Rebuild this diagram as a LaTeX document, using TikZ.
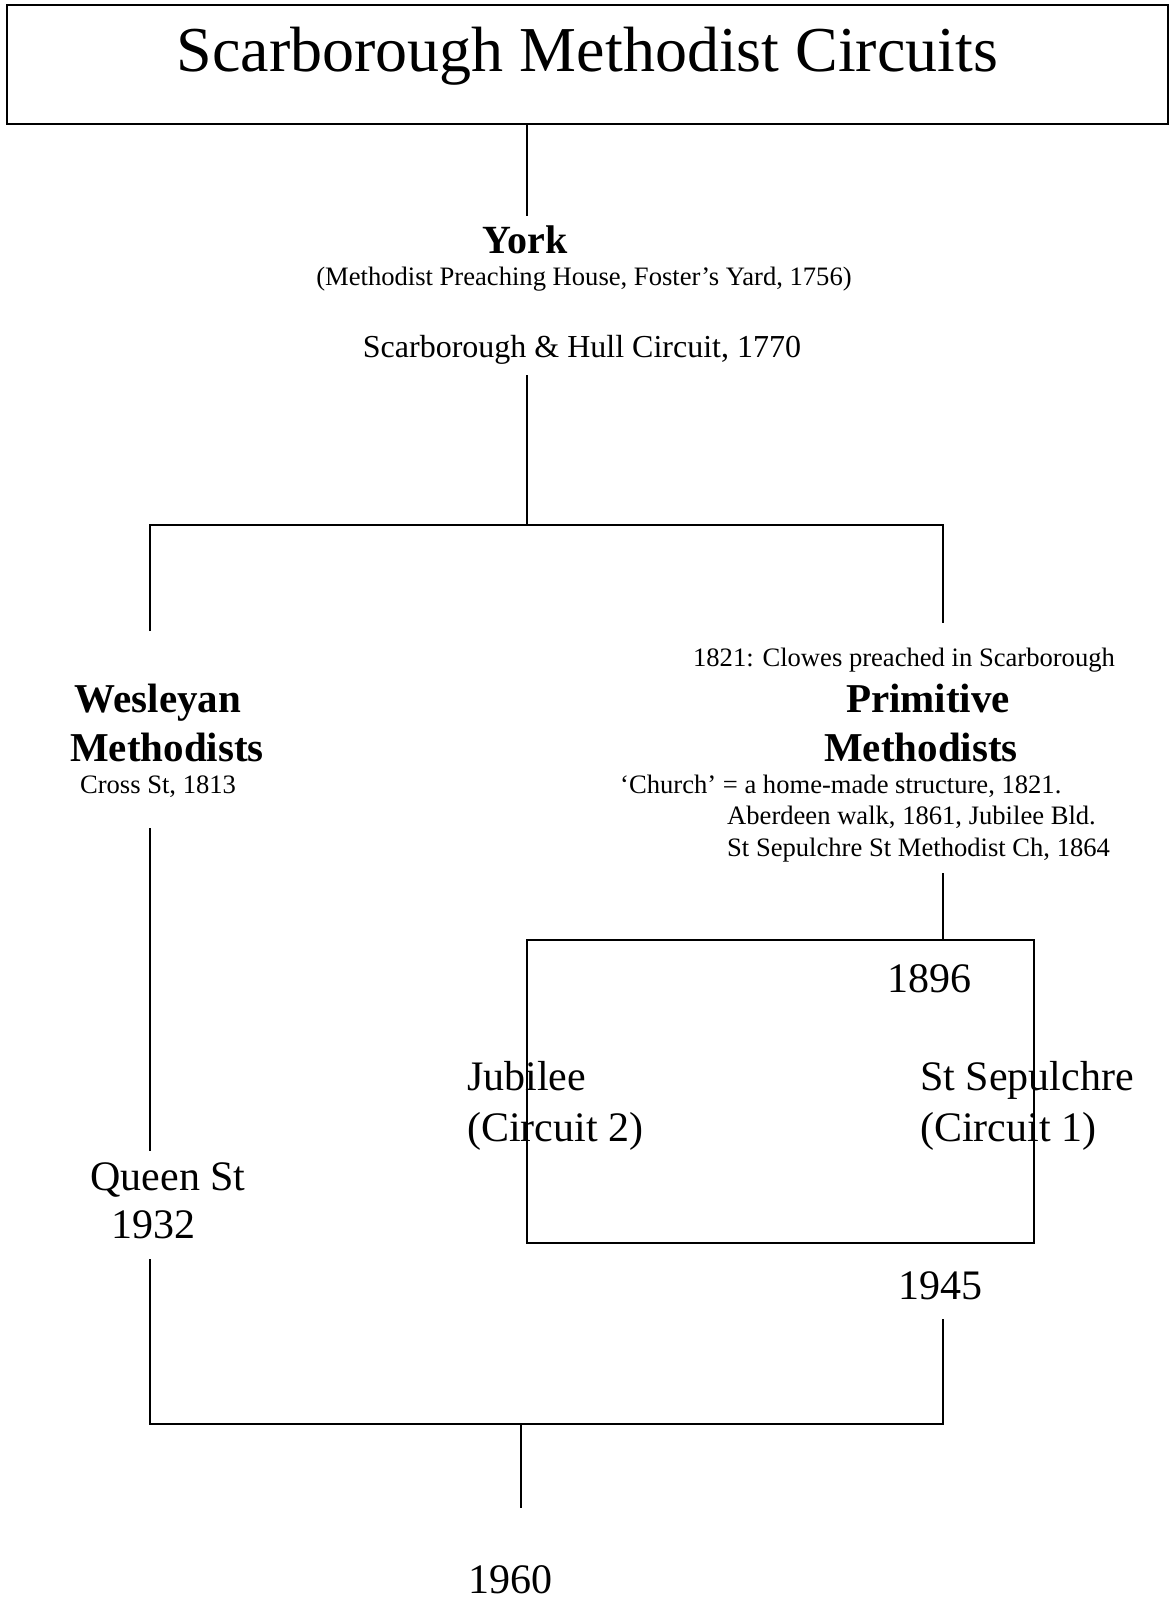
\documentclass[tikz,border=0pt]{standalone}
\usepackage{fontspec}
\setmainfont{Liberation Serif}
\tikzset{
  conn/.style={draw=black, line width=1.5pt},
  frame/.style={draw=black, line width=1.8pt, inner sep=0pt},
  huge/.style={font=\fontsize{64}{70}\selectfont},
  head/.style={font=\fontsize{41}{48}\selectfont\bfseries, anchor=base, inner sep=0pt},
  big/.style={font=\fontsize{42}{48}\selectfont, anchor=base, inner sep=0pt},
  mid/.style={font=\fontsize{32}{38}\selectfont, anchor=base, inner sep=0pt},
  note/.style={font=\fontsize{26.6}{31}\selectfont, anchor=base, inner sep=0pt},
}

\begin{document}
\begin{tikzpicture}[x=1pt,y=-1pt]
\useasboundingbox (0,0) rectangle (1170,1601);

% title
\node[frame, huge, anchor=base, minimum width=1161pt, text height=66pt, text depth=53pt] (title) at (587.5,71) {Scarborough Methodist Circuits};

% York
\node[head, font=\fontsize{40}{46}\selectfont\bfseries] (york) at (525,253) {York};
\node[note] (yorknote) at (584,285) {(Methodist Preaching House, Foster’s Yard, 1756)};
\node[mid] (hull) at (582,357) {Scarborough \& Hull Circuit, 1770};

% the two branches
\node[note] (clowes) at (904,666) {1821: Clowes preached in Scarborough};
\node[head] (wes) at (158,712) {Wesleyan};
\node[head] (wesm) at (167,761) {Methodists};
\node[note] (cross) at (158,793) {Cross St, 1813};
\node[head] (prim) at (928,712) {Primitive};
\node[head] (primm) at (921,761) {Methodists};
\node[note, anchor=base west] (church) at (620,793) {‘Church’ = a home-made structure, 1821.};
\node[note, anchor=base west] (aberdeen) at (727,824) {Aberdeen walk, 1861, Jubilee Bld.};
\node[note, anchor=base west] (sepst) at (727,856) {St Sepulchre St Methodist Ch, 1864};

% 1896 split
\node[frame, line width=1.5pt, minimum width=507pt, minimum height=303pt] (merger) at (780.5,1091.5) {};
\node[big] (y1896) at (929,992) {1896};
\node[big, anchor=base west] (jubilee) at (467,1090) {Jubilee};
\node[big, anchor=base west] (jubc) at (467,1141) {(Circuit 2)};
\node[big, anchor=base west] (sep) at (920,1090) {St Sepulchre};
\node[big, anchor=base west] (sepc) at (920,1141) {(Circuit 1)};

\node[big] (queen) at (168,1190) {Queen St};
\node[big] (q1932) at (153,1238) {1932};
\node[big] (y1945) at (940,1299) {1945};
\node[big] (y1960) at (510,1593) {1960};

% free ends of the connectors
\coordinate (yorktop) at (527,216);
\coordinate (hullbot) at (527,375);
\coordinate (split) at (527,525);
\coordinate (westop) at (150,631);
\coordinate (primtop) at (943,623);
\coordinate (wesbot) at (150,828);
\coordinate (queentop) at (150,1151);
\coordinate (primbot) at (943,873);
\coordinate (queenbot) at (150,1259);
\coordinate (y1945bot) at (943,1319);
\coordinate (join) at (521,1424);
\coordinate (y1960top) at (521,1508);

\draw[conn] (title.south -| yorktop) -- (yorktop);
\draw[conn] (hullbot) -- (split);
\draw[conn] (westop) -- (westop |- split) -- (primtop |- split) -- (primtop);
\draw[conn] (wesbot) -- (queentop);
\draw[conn] (primbot) -- (primbot |- merger.north);
\draw[conn] (queenbot) -- (queenbot |- join) -- (y1945bot |- join) -- (y1945bot);
\draw[conn] (join) -- (y1960top);
\end{tikzpicture}
\end{document}
